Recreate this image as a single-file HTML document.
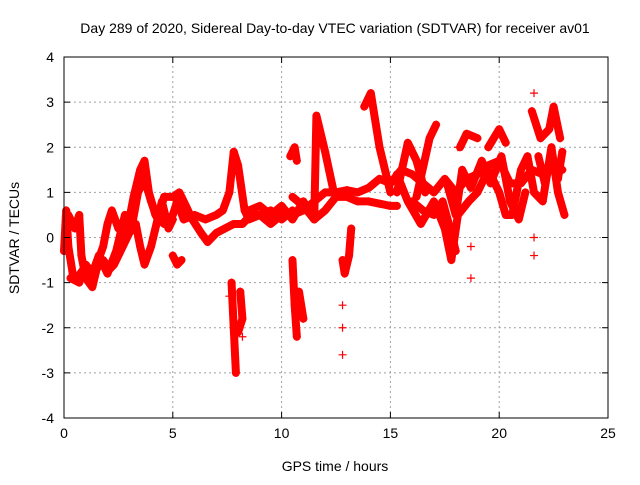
<!DOCTYPE html>
<html><head><meta charset="utf-8"><style>
body{margin:0;background:#fff}
svg{font-family:"Liberation Sans",sans-serif;font-size:14px}
</style></head><body>
<svg id="chart" width="640" height="480">
<text x="335" y="33" text-anchor="middle">Day 289 of 2020, Sidereal Day-to-day VTEC variation (SDTVAR) for receiver av01</text>
<g id="grid"></g>
<g id="marks"></g>
<rect x="64" y="57" width="544" height="361" fill="none" stroke="#000" stroke-width="1"/>
<g id="ticks"></g>
<text x="335" y="471" text-anchor="middle">GPS time / hours</text>
<text transform="translate(19,238) rotate(-90)" text-anchor="middle">SDTVAR / TECUs</text>
</svg>
<script>
const xTicks=[0,5,10,15,20,25];
const yTicks=[-4,-3,-2,-1,0,1,2,3,4];
const traces=[
[[0,-0.3],[0.1,0.6],[0.2,-0.2],[0.4,-0.8],[0.6,-0.9],[0.9,-0.7],[1.2,-0.9],[1.5,-0.6],[1.8,-0.2],[2.0,0.3],[2.2,0.6],[2.5,0.2],[2.8,0.1],[3.0,0.4],[3.2,0.9],[3.5,1.5],[3.7,1.7],[3.9,1.0],[4.2,0.5],[4.6,0.3],[5.0,0.5],[5.2,0.8],[5.5,0.4],[6.0,0.5],[6.5,0.4],[7.0,0.5],[7.3,0.6],[7.6,1.0],[7.8,1.9],[8.0,1.6],[8.3,0.6],[8.5,0.4],[9.0,0.5],[9.5,0.6],[10.0,0.4],[10.5,0.6]],
[[0.2,0.5],[0.5,0.2],[0.7,0.5],[0.8,-0.4],[1.0,-0.9],[1.3,-1.1],[1.5,-0.7],[1.8,-0.5],[2.1,-0.7],[2.3,-0.6],[2.6,-0.3],[3.0,0.1],[3.3,0.3],[3.5,-0.2],[3.7,-0.6],[4.0,-0.2],[4.3,0.4],[4.5,0.8],[4.8,0.2],[5.0,0.4]],
[[0.3,-0.9],[0.7,-1.0],[1.0,-0.6],[1.3,-0.8],[1.6,-0.4],[2.0,-0.8],[2.4,-0.3],[2.8,0.5],[3.1,0.2],[3.4,1.0],[3.6,1.2]],
[[3.3,0.9],[3.7,1.3],[4.0,0.8],[4.3,0.4],[4.6,0.9],[5.0,0.9],[5.3,1.0],[5.6,0.7],[5.9,0.4],[6.3,0.1],[6.6,-0.1],[7.0,0.1],[7.4,0.2],[7.8,0.3],[8.2,0.3],[8.6,0.5],[9.0,0.5],[9.5,0.3],[10,0.5],[10.5,0.5],[11,0.6],[11.5,0.8],[12,1.0],[12.5,1.0],[13,1.05],[13.5,1.0],[14,1.1],[14.5,1.3],[15,1.2],[15.5,1.5],[16,1.4],[16.5,1.2],[17,1.0],[17.5,1.3],[18,1.0],[18.5,1.3],[19,1.4],[19.5,1.6],[20,1.7],[20.5,1.2],[21,1.2],[21.5,1.5],[22,1.4],[22.5,1.6],[22.9,1.5]],
[[10.5,0.9],[11,0.7],[11.5,0.4],[12,0.6],[12.5,0.9],[13,0.9],[13.5,0.8],[14,0.8],[14.5,0.75],[15,0.7],[15.3,0.7]],
[[8.5,0.6],[9,0.7],[9.5,0.5],[10,0.7],[10.5,0.4],[11,0.8],[11.4,0.5]],
[[5.0,-0.4],[5.2,-0.6],[5.4,-0.5]],
[[11.5,0.4],[11.6,2.7],[12.0,1.9],[12.4,1.0]],
[[13.8,2.9],[14.1,3.2],[14.5,2.0],[15.0,1.0]],
[[15.3,1.0],[15.8,2.1],[16.2,1.7],[16.6,1.0]],
[[16.2,0.9],[16.8,2.2],[17.1,2.5]],
[[18.2,2.0],[18.5,2.3],[19.0,2.2]],
[[19.5,2.0],[20.0,2.4],[20.3,2.1]],
[[15.3,1.4],[15.8,0.8],[16.4,0.3],[17.0,0.8],[17.5,0.2],[17.8,-0.5],[18.1,0.5],[18.6,0.8],[19.0,1.0],[19.5,1.5],[20.0,1.0],[20.3,0.5],[20.6,0.5],[21.0,1.5],[21.3,1.8],[21.6,1.0],[22.0,0.8],[22.4,2.0],[22.7,1.0],[23.0,0.5]],
[[17.6,1.2],[18.0,0.5],[18.3,1.5],[18.7,1.1],[19.2,1.7],[19.6,1.2],[20.1,1.8],[20.5,0.8],[20.9,0.4],[21.2,1.0]],
[[16.0,0.8],[16.5,0.6],[17.0,0.5],[17.4,0.8],[17.8,0.1],[18.0,-0.3]],
[[7.7,-1.0],[7.8,-2.0],[7.9,-3.0]],
[[8.1,-1.2],[8.2,-1.8],[8.0,-2.1]],
[[10.4,1.8],[10.6,2.0],[10.7,1.7]],
[[10.5,-0.5],[10.6,-1.5],[10.7,-2.2]],
[[10.8,-1.2],[11.0,-1.8]],
[[12.8,-0.5],[12.9,-0.8],[13.1,-0.4],[13.2,0.2]],
[[21.5,2.8],[21.9,2.2],[22.3,2.4],[22.5,2.9],[22.8,2.2]],
[[21.8,1.8],[22.1,1.2],[22.4,1.8],[22.7,1.3],[22.9,1.9]]
];
const singles=[[12.8,-2.0],[12.8,-2.6],[12.8,-1.5],[18.7,-0.2],[18.7,-0.9],[21.6,0.0],[21.6,3.2],[18.1,2.0],[7.6,-1.3],[8.2,-2.2],[21.6,-0.4]];
const NS="http://www.w3.org/2000/svg";
const X0=64,X1=608,Y0=418,Y1=57;
function sx(t){return X0+(t-0)/(25-0)*(X1-X0);}
function sy(v){return Y0-(v+4)/8*(Y0-Y1);}
const grid=document.getElementById('grid'),ticks=document.getElementById('ticks'),marks=document.getElementById('marks');
function mk(tag,attrs,parent){const e=document.createElementNS(NS,tag);for(const k in attrs)e.setAttribute(k,attrs[k]);parent.appendChild(e);return e;}
xTicks.forEach(t=>{
 if(t>0&&t<25){const g=mk('line',{x1:sx(t),x2:sx(t),y1:Y0,y2:Y1,stroke:'#a0a0a0','stroke-dasharray':'2,3'},grid);
 
 }
 mk('line',{x1:sx(t),x2:sx(t),y1:Y0,y2:Y0-6,stroke:'#000'},ticks);
 mk('line',{x1:sx(t),x2:sx(t),y1:Y1,y2:Y1+6,stroke:'#000'},ticks);
 const l=mk('text',{x:sx(t),y:Y0+20,'text-anchor':'middle'},ticks);l.textContent=t;
 
 
});
yTicks.forEach(v=>{
 if(v>-4&&v<4){const g=mk('line',{x1:X0,x2:X1,y1:sy(v),y2:sy(v),stroke:'#a0a0a0','stroke-dasharray':'2,3'},grid);
 
 }
 mk('line',{x1:X0,x2:X0+6,y1:sy(v),y2:sy(v),stroke:'#000'},ticks);
 mk('line',{x1:X1,x2:X1-6,y1:sy(v),y2:sy(v),stroke:'#000'},ticks);
 const l=mk('text',{x:X0-10,y:sy(v)+5,'text-anchor':'end'},ticks);l.textContent=v;
 
 
});
function plus(t,v){const x=sx(t),y=sy(v);
 const p=mk('path',{d:`M${x-4},${y}H${x+4}M${x},${y-4}V${y+4}`,stroke:'#f00','stroke-width':1.2,fill:'none'},marks);
 
 }
traces.forEach(tr=>{
 const pl=mk('polyline',{points:tr.map(p=>sx(p[0])+','+sy(p[1])).join(' '),fill:'none',stroke:'#f00','stroke-width':8,'stroke-linejoin':'round','stroke-linecap':'round'},marks);
 
 
 tr.forEach(p=>plus(p[0],p[1]));
});
singles.forEach(p=>plus(p[0],p[1]));
</script>
</body></html>
